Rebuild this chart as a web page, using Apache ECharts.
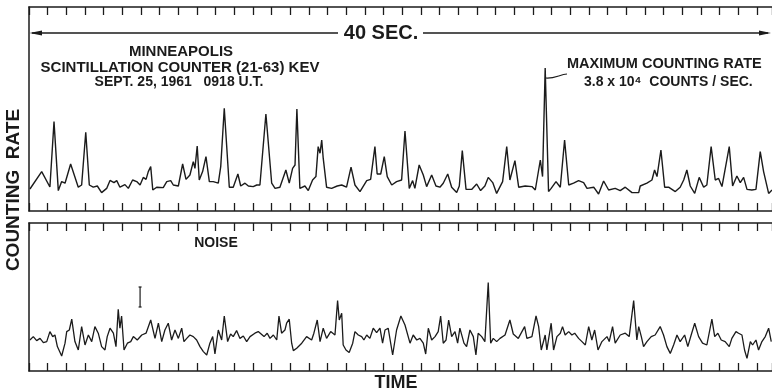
<!DOCTYPE html>
<html>
<head>
<meta charset="utf-8">
<style>
  html, body { margin: 0; padding: 0; background: #fff; }
  #chart { width: 772px; height: 391px; }
</style>
<script src="https://cdn.jsdelivr.net/npm/echarts@6/dist/echarts.min.js"></script>
</head>
<body>
<div id="chart"></div>
<script>
  // [time (s), counting rate (arbitrary units)]
  const signal = [
    [0.05, 11], [0.68, 19.7], [1.12, 12], [1.34, 44.7], [1.57, 10.2], [1.75, 14.7], [1.93, 13.9], [2.23, 23.5],
    [2.64, 11.9], [2.82, 13], [3.04, 39.4], [3.23, 13], [3.44, 11.9], [3.66, 12.5], [3.89, 9.2], [4.16, 11.3],
    [4.34, 15.3], [4.55, 14.2], [4.70, 15.2], [4.87, 11.9], [5.14, 13.2], [5.32, 11.3], [5.55, 15.5], [5.77, 14.7],
    [5.95, 13], [6.12, 16.8], [6.27, 15.8], [6.39, 19.7], [6.52, 22.2], [6.63, 10.5], [6.84, 11.9], [7.19, 11.7],
    [7.38, 14.7], [7.59, 15.2], [7.73, 13], [8.00, 12.5], [8.23, 23.5], [8.41, 15.8], [8.62, 18], [8.80, 24.7],
    [8.89, 21.3], [9.01, 32.5], [9.12, 15.5], [9.30, 19.7], [9.48, 27.2], [9.66, 14.7], [9.87, 14.7], [10.14, 13.9],
    [10.27, 22.2], [10.46, 51.4], [10.73, 11.9], [10.94, 11.9], [11.19, 18.5], [11.34, 12.5], [11.57, 13.9], [11.75, 12.5],
    [12.01, 12.2], [12.20, 13], [12.37, 13], [12.69, 48.5], [13.00, 13.9], [13.18, 11.3], [13.44, 11.9], [13.76, 20.5],
    [13.94, 13.9], [14.12, 21.3], [14.25, 23], [14.35, 51], [14.51, 11.3], [14.78, 12.5], [14.96, 10.2], [15.19, 15.5],
    [15.37, 17.2], [15.49, 32.2], [15.59, 28.9], [15.68, 35.5], [15.76, 26.4], [15.94, 11.9], [16.21, 11.3], [16.51, 12.5],
    [16.75, 13], [17.01, 11.9], [17.25, 21.9], [17.46, 13], [17.73, 9.7], [18.09, 15.2], [18.30, 15.8], [18.53, 32.2],
    [18.65, 18.5], [18.84, 18.5], [19.03, 27.2], [19.19, 17.2], [19.43, 13], [19.69, 14.7], [19.96, 15.5], [20.14, 40],
    [20.37, 11.3], [20.55, 15.2], [20.67, 11.3], [20.90, 23], [21.12, 18], [21.30, 12.2], [21.57, 18], [21.80, 12.5],
    [22.01, 11.9], [22.19, 13.9], [22.43, 18.5], [22.64, 11.9], [22.91, 9.2], [23.05, 12.5], [23.21, 30.2], [23.41, 10.8],
    [23.71, 10.8], [23.98, 13.5], [24.19, 10.2], [24.42, 12.5], [24.60, 16.8], [24.84, 14.2], [25.05, 8.8], [25.37, 14.7],
    [25.59, 32.2], [25.76, 15.5], [26.03, 25.2], [26.23, 11.9], [26.58, 12.5], [26.94, 12.2], [27.12, 10.5], [27.39, 25.5],
    [27.51, 17.2], [27.65, 71.5], [27.83, 9.7], [27.97, 11.3], [28.23, 14.7], [28.46, 11.9], [28.69, 35.5], [28.91, 13],
    [29.17, 13.9], [29.44, 15.2], [29.71, 14.2], [29.89, 11.3], [30.25, 11.9], [30.51, 8.5], [30.78, 15], [31.05, 10.5],
    [31.40, 11.3], [31.67, 10.2], [31.94, 11.9], [32.30, 9.2], [32.66, 9.2], [32.74, 12.5], [33.10, 13.9], [33.37, 15.5],
    [33.51, 20.5], [33.64, 17.2], [33.85, 30.5], [34.05, 11.9], [34.26, 11.9], [34.62, 9.7], [34.88, 11.9], [35.07, 15.5],
    [35.24, 20.5], [35.42, 12.5], [35.66, 8.8], [35.90, 16.8], [36.14, 11.9], [36.31, 13], [36.54, 32.2], [36.76, 15.5],
    [36.94, 16.3], [37.12, 12.2], [37.51, 32.2], [37.69, 12.5], [37.92, 17.5], [38.10, 14.2], [38.28, 16.8], [38.46, 10.8],
    [38.72, 10.5], [38.94, 10.8], [39.17, 29.7], [39.35, 19.7], [39.62, 8.8], [39.80, 10.5]
  ]

  const noise = [
    [0.05, 15.5], [0.23, 17.2], [0.41, 15.2], [0.59, 16.3], [0.77, 14.2], [0.95, 14.7], [1.12, 19.7], [1.27, 17.2],
    [1.39, 18], [1.52, 12.2], [1.75, 7.5], [1.93, 13.9], [2.02, 19.7], [2.16, 20.5], [2.29, 25.9], [2.46, 14.7],
    [2.64, 10.5], [2.82, 22.2], [3.00, 13], [3.18, 18], [3.36, 14.7], [3.53, 22.2], [3.71, 18.9], [3.89, 12.2],
    [4.07, 10.5], [4.19, 17.2], [4.34, 21.4], [4.52, 18.9], [4.66, 12.2], [4.78, 30.9], [4.87, 21.4], [4.96, 27.5],
    [5.09, 10.5], [5.27, 13.9], [5.45, 14.7], [5.59, 17.2], [5.80, 15.5], [6.04, 18], [6.27, 18.9], [6.52, 25.5],
    [6.75, 16.3], [6.93, 23.9], [7.11, 14.7], [7.28, 20.5], [7.46, 23.9], [7.64, 15.5], [7.82, 20.5], [8.00, 16.3],
    [8.18, 21.4], [8.30, 14.7], [8.45, 16.3], [8.62, 18], [8.80, 17.2], [8.98, 15.5], [9.16, 12.2], [9.34, 9.7],
    [9.52, 8], [9.69, 13.9], [9.84, 17.2], [9.96, 8.5], [10.14, 20.5], [10.32, 15.5], [10.46, 27.5], [10.64, 14.7],
    [10.80, 18.5], [10.94, 17.2], [11.12, 20.2], [11.30, 16.3], [11.48, 17.5], [11.66, 14.7], [11.84, 17.2], [12.10, 18.9],
    [12.28, 19.7], [12.37, 20.2], [12.59, 17.2], [12.76, 18.9], [12.91, 16.3], [13.09, 18], [13.27, 15.5], [13.39, 27.5],
    [13.53, 18.9], [13.71, 20.5], [13.80, 23.9], [13.94, 25.9], [14.07, 13.9], [14.16, 10.2], [14.34, 11.4], [14.61, 13.9],
    [14.87, 17.2], [15.14, 15.5], [15.26, 18.9], [15.44, 25.5], [15.59, 14.7], [15.76, 21.4], [15.94, 16.3], [16.16, 19.7],
    [16.39, 18], [16.53, 35.2], [16.62, 25.5], [16.75, 28.9], [16.83, 13], [16.98, 10.5], [17.15, 9.2], [17.34, 13.9],
    [17.46, 19.7], [17.64, 18], [17.82, 17.2], [17.94, 15.5], [18.09, 18], [18.26, 16.3], [18.44, 21.4], [18.62, 19.2],
    [18.80, 21.4], [18.94, 13.9], [19.07, 20.5], [19.24, 21.4], [19.48, 8], [19.69, 20.5], [19.92, 27.5], [20.14, 23],
    [20.41, 13.9], [20.58, 18], [20.77, 15.5], [20.94, 16.3], [21.12, 13.9], [21.25, 8.5], [21.39, 21.4], [21.57, 15.5],
    [21.75, 17.2], [21.92, 19.7], [22.05, 27.5], [22.19, 13.9], [22.34, 15.5], [22.48, 25.5], [22.64, 17.2], [22.82, 19.7],
    [22.96, 13.9], [23.08, 21.4], [23.30, 13.9], [23.44, 12.2], [23.62, 20.5], [23.80, 17.2], [23.94, 8], [24.06, 18.9],
    [24.25, 17.2], [24.42, 14.7], [24.60, 44.2], [24.73, 13.9], [24.87, 16.3], [25.05, 14.7], [25.23, 16.3], [25.50, 18],
    [25.76, 25.5], [25.94, 18.5], [26.21, 16.3], [26.55, 22.2], [26.67, 16.3], [26.94, 17.2], [27.16, 27.5], [27.30, 22.2],
    [27.44, 10.5], [27.65, 18], [27.74, 10.5], [27.97, 23.9], [28.10, 10.5], [28.28, 17.2], [28.46, 18.9], [28.58, 22.2],
    [28.72, 18], [28.91, 19.7], [29.08, 18], [29.23, 18.9], [29.44, 16.3], [29.62, 14.7], [29.80, 13], [29.98, 22.2],
    [30.15, 15.5], [30.30, 20.5], [30.48, 10.5], [30.69, 14.7], [30.96, 17.2], [31.08, 14.7], [31.26, 22.2], [31.40, 13.9],
    [31.67, 18], [31.94, 18.9], [32.15, 17.2], [32.39, 35.2], [32.56, 15.5], [32.66, 22.2], [32.80, 17.2], [32.92, 12.2],
    [33.10, 14.7], [33.33, 17.2], [33.54, 18], [33.81, 22.2], [33.99, 18], [34.17, 12.2], [34.35, 8.8], [34.53, 13],
    [34.71, 18], [34.88, 14.7], [35.12, 18], [35.29, 12.2], [35.47, 18], [35.66, 23.9], [35.87, 17.2], [36.08, 13.9],
    [36.31, 13], [36.58, 25.9], [36.73, 17.2], [36.90, 18.9], [37.08, 15.5], [37.29, 14.7], [37.51, 12.2], [37.65, 16.3],
    [37.87, 19.7], [38.01, 18.9], [38.19, 18], [38.33, 10.5], [38.46, 6.3], [38.64, 14.7], [38.76, 13], [38.94, 15.5],
    [39.08, 10.5], [39.26, 14.7], [39.44, 17.2], [39.62, 21.4], [39.76, 14.7]
  ]

  // noise scale bar: [time, low, high]
  const errBar = [[5.95, 32, 42]]

  // the record runs on past the right edge of the photo, so the axis stops where the picture is cut
  const tMax = 39.8
  const topMax = 102
  const noiseMax = 74

  const ink = '#1b1b1b'
  const font = '"Liberation Sans", Arial, sans-serif'

  const chart = echarts.init(document.getElementById('chart'), null, { renderer: 'canvas' })

  function timeAxis(grid, pos) {
    return {
      type: 'value',
      gridIndex: grid,
      position: pos,
      min: 0,
      max: tMax,
      interval: 1,
      axisLine: { show: true, onZero: false, lineStyle: { color: ink, width: 1.5 } },
      axisLabel: { show: false },
      splitLine: { show: false },
      axisTick: { show: true, inside: true, length: 8, lineStyle: { color: ink, width: 1.3 } }
    }
  }

  function rateAxis(grid, max) {
    return {
      type: 'value',
      gridIndex: grid,
      position: 'left',
      min: 0,
      max: max,
      axisLine: { show: true, lineStyle: { color: ink, width: 1.5 } },
      axisLabel: { show: false },
      axisTick: { show: false },
      splitLine: { show: false }
    }
  }

  function txt(x, y, s, size, align) {
    return {
      type: 'text',
      x: x,
      y: y,
      style: {
        text: s,
        fill: ink,
        font: 'bold ' + size + 'px ' + font,
        textAlign: align || 'center',
        textVerticalAlign: 'middle'
      }
    }
  }

  chart.setOption({
    animation: false,
    backgroundColor: '#ffffff',
    grid: [
      { left: 29, right: 0, top: 7, height: 204 },
      { left: 29, right: 0, top: 223, height: 148 }
    ],
    xAxis: [timeAxis(0, 'bottom'), timeAxis(0, 'top'), timeAxis(1, 'bottom'), timeAxis(1, 'top')],
    yAxis: [rateAxis(0, topMax), rateAxis(1, noiseMax)],
    series: [
      {
        type: 'line',
        xAxisIndex: 0,
        yAxisIndex: 0,
        data: signal,
        symbol: 'none',
        lineStyle: { color: ink, width: 1.4 },
        z: 3
      },
      {
        type: 'line',
        xAxisIndex: 2,
        yAxisIndex: 1,
        data: noise,
        symbol: 'none',
        lineStyle: { color: ink, width: 1.3 },
        z: 3
      },
      {
        type: 'custom',
        xAxisIndex: 2,
        yAxisIndex: 1,
        data: errBar,
        renderItem: function(params, api) {
          let lo = api.coord([api.value(0), api.value(1)])
          let hi = api.coord([api.value(0), api.value(2)])
          let st = { stroke: ink, lineWidth: 1.2 }
          return {
            type: 'group',
            children: [
              { type: 'line', shape: { x1: lo[0], y1: lo[1], x2: hi[0], y2: hi[1] }, style: st },
              { type: 'line', shape: { x1: lo[0] - 1.5, y1: lo[1], x2: lo[0] + 1.5, y2: lo[1] }, style: st },
              { type: 'line', shape: { x1: hi[0] - 1.5, y1: hi[1], x2: hi[0] + 1.5, y2: hi[1] }, style: st }
            ]
          }
        }
      }
    ],
    graphic: [
      // 40 sec arrow
      { type: 'line', shape: { x1: 32, y1: 33, x2: 338, y2: 33 }, style: { stroke: ink, lineWidth: 1.5 } },
      { type: 'line', shape: { x1: 423, y1: 33, x2: 768, y2: 33 }, style: { stroke: ink, lineWidth: 1.5 } },
      { type: 'polygon', shape: { points: [[29.5, 33], [42, 30.5], [42, 35.5]] }, style: { fill: ink } },
      { type: 'polygon', shape: { points: [[771, 33], [759, 30.5], [759, 35.5]] }, style: { fill: ink } },
      txt(381, 33, '40 SEC.', 20),
      txt(181, 52, 'MINNEAPOLIS', 15),
      txt(180, 68, 'SCINTILLATION COUNTER (21-63) KEV', 15),
      txt(179, 82, 'SEPT. 25, 1961   0918 U.T.', 14),
      txt(567, 64, 'MAXIMUM COUNTING RATE', 14.5, 'left'),
      txt(584, 82, '3.8 x 10\u2074  COUNTS / SEC.', 14, 'left'),
      // leader to the maximum peak
      {
        type: 'bezierCurve',
        shape: { x1: 545.5, y1: 78, cpx1: 554, cpy1: 79, cpx2: 560, cpy2: 74.5, x2: 567, y2: 74 },
        style: { stroke: ink, lineWidth: 1.2, fill: null }
      },
      txt(216, 243, 'NOISE', 14),
      txt(396, 383, 'TIME', 18),
      {
        type: 'text',
        x: 14,
        y: 190,
        rotation: Math.PI / 2,
        style: {
          text: 'COUNTING  RATE',
          fill: ink,
          font: 'bold 19px ' + font,
          textAlign: 'center',
          textVerticalAlign: 'middle'
        }
      }
    ]
  })
</script>
</body>
</html>
